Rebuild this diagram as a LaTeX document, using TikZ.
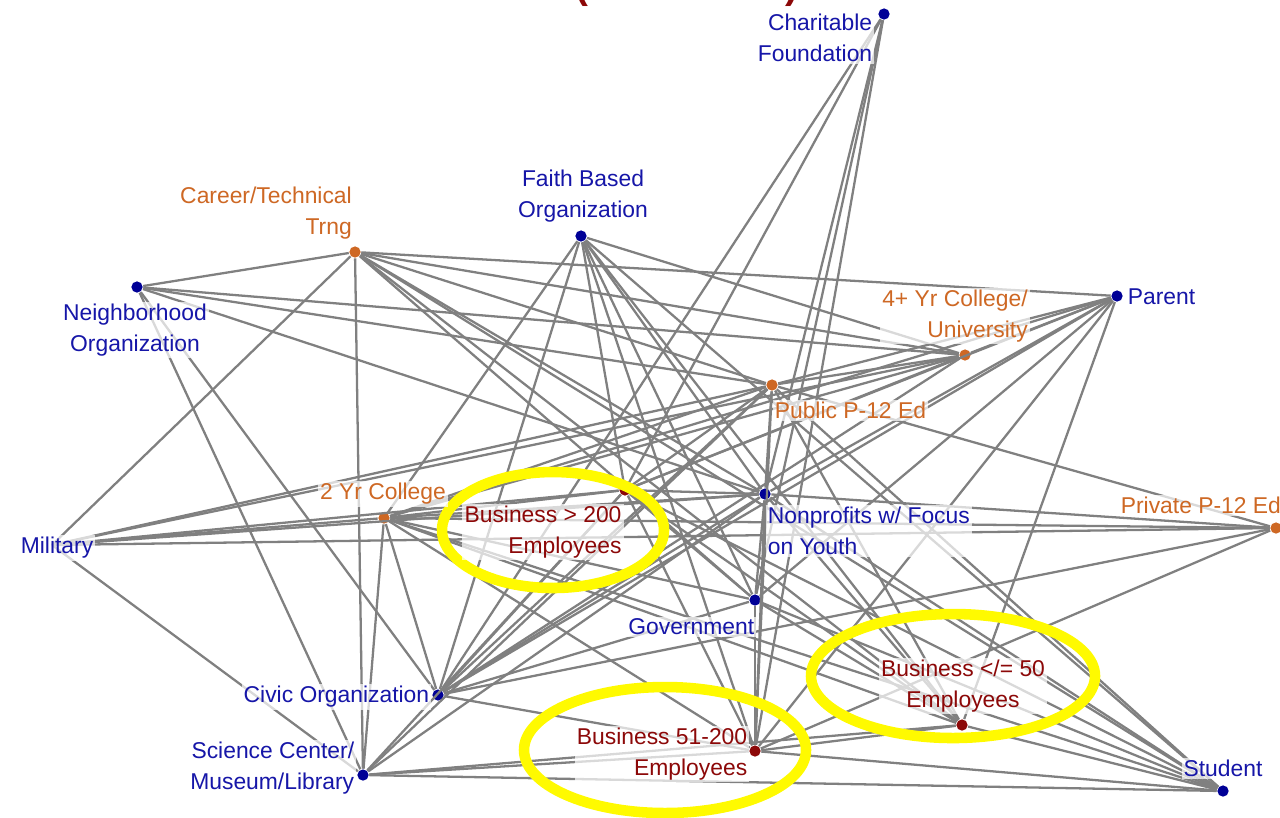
\documentclass[tikz,border=0pt]{standalone}
\usepackage{fontspec}
\setmainfont{Liberation Sans}
\definecolor{orgblue}{RGB}{22,22,168}
\definecolor{dotblue}{RGB}{0,0,150}
\definecolor{edugold}{RGB}{206,104,36}
\definecolor{bizred}{RGB}{140,8,8}
\definecolor{edgegray}{RGB}{128,128,128}
\definecolor{ringyellow}{RGB}{255,250,0}

\begin{document}
\begin{tikzpicture}[x=0.01cm,y=-0.01cm,
	dot/.style={circle,inner sep=0pt,minimum size=3.2pt},
	org/.style={dot,fill=dotblue},
	edu/.style={dot,fill=edugold},
	biz/.style={dot,fill=bizred},
	tag/.style={font=\fontsize{6.5}{8.8}\selectfont,inner sep=0.6pt,fill=white,fill opacity=0.7,text opacity=1},
	orgtag/.style={tag,text=orgblue},
	edutag/.style={tag,text=edugold},
	biztag/.style={tag,text=bizred},
	edge/.style={draw=edgegray,line width=0.65pt},
	ring/.style={draw=ringyellow,line width=3pt}]
	\useasboundingbox (0,0) rectangle (1280,817);

	% partners
	\node[org] (CF) at (884,14) {};
	\node[org] (FB) at (581,236) {};
	\node[edu] (CT) at (355,252) {};
	\node[org] (NO) at (137,287) {};
	\node[org] (PA) at (1117,296) {};
	\node[edu] (U4) at (965,355) {};
	\node[edu] (PP) at (772,385) {};
	\node[edu] (C2) at (384,518) {};
	\node[biz] (B2) at (625,490) {};
	\node[org] (NP) at (765,494) {};
	\node[edu] (PR) at (1276,528) {};
	\coordinate (MI) at (52,545);
	\node[org] (GV) at (755,600) {};
	\node[org] (CO) at (438,695) {};
	\node[biz] (B5) at (755,751) {};
	\node[biz] (B50) at (962,725) {};
	\node[org] (SC) at (363,775) {};
	\node[org] (ST) at (1223,791) {};

	% links
	\begin{scope}[on background layer/.try]
	\foreach \a/\b in {CF/B2,CF/NP,CF/GV,CF/B5,CF/CO,
		CT/NO,CT/MI,CT/SC,CT/PA,CT/U4,CT/PP,CT/NP,CT/GV,CT/B50,CT/ST,
		NO/U4,NO/PP,NO/NP,NO/SC,NO/CO,
		FB/U4,FB/C2,FB/CO,FB/B2,FB/NP,FB/GV,FB/B5,FB/B50,FB/ST,
		PA/U4,PA/PP,PA/NP,PA/C2,PA/B2,PA/CO,PA/GV,PA/B5,PA/B50,
		U4/PP,U4/C2,U4/MI,U4/B2,U4/CO,
		PP/PR,PP/C2,PP/MI,PP/NP,PP/B5,PP/CO,PP/SC,PP/B2,PP/ST,PP/B50,
		MI/C2,MI/B2,MI/NP,MI/PR,MI/SC,
		C2/B2,C2/NP,C2/PR,C2/CO,C2/SC,C2/GV,C2/B5,C2/B50,C2/ST,
		B2/NP,B2/CO,B2/SC,B2/GV,B2/B50,B2/ST,B2/B5,
		NP/PR,NP/GV,NP/B5,NP/CO,NP/SC,NP/B50,NP/ST,
		GV/CO,GV/B5,GV/B50,GV/ST,
		PR/CO,PR/B5,
		CO/B5,SC/B5,SC/B50,SC/ST,B5/B50,B5/ST,B50/ST}
		\draw[edge] (\a) -- (\b);
	\end{scope}

	% highlighted businesses
	\draw[ring] (553,530) ellipse [x radius=111, y radius=58];
	\draw[ring] (665,750) ellipse [x radius=141, y radius=63];
	\draw[ring] (953,676) ellipse [x radius=142, y radius=62];

	% labels
	\node[orgtag,align=right] (CF-l) at (815,38) {Charitable\\Foundation};
	\node[orgtag,align=center] (FB-l) at (583,196) {Faith Based\\Organization};
	\node[edutag,align=right] (CT-l) at (266,213) {Career/Technical\\Trng};
	\node[orgtag,align=center] (NO-l) at (135,330) {Neighborhood\\Organization};
	\node[orgtag,anchor=west] (PA-l) at (1125,297) {Parent};
	\node[edutag,align=right] (U4-l) at (955,316) {4+ Yr College/\\University};
	\node[edutag,anchor=west] (PP-l) at (772,410) {Public P-12 Ed};
	\node[edutag] (C2-l) at (383,494) {2 Yr College};
	\node[biztag,align=right] (B2-l) at (543,532) {Business > 200\\Employees};
	\node[orgtag,align=left,anchor=north west] (NP-l) at (765,504) {Nonprofits w/ Focus\\on Youth};
	\node[edutag,anchor=west] (PR-l) at (1118,505) {Private P-12 Ed};
	\node[orgtag] (MI-l) at (57,548) {Military};
	\node[orgtag,anchor=east] (GV-l) at (757,627) {Government};
	\node[orgtag,anchor=east] (CO-l) at (432,697) {Civic Organization};
	\node[orgtag,align=right,anchor=east] (SC-l) at (357,768) {Science Center/\\Museum/Library};
	\node[biztag,align=right,anchor=east] (B5-l) at (750,754) {Business 51-200\\Employees};
	\node[biztag,align=center] (B50-l) at (963,686) {Business </= 50\\Employees};
	\node[orgtag] (ST-l) at (1223,768) {Student};

	% title, cut off at the top
	\node[text=bizred,font=\fontsize{11}{13}\selectfont\bfseries,anchor=base,inner sep=0pt] (title) at (687,-2) {(\hspace{56pt})};
\end{tikzpicture}
\end{document}
